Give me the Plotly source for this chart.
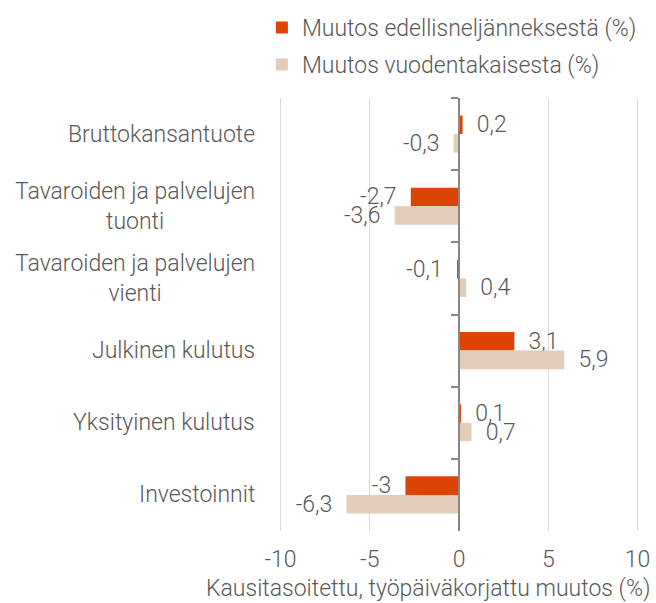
import plotly.graph_objects as go

categories = ["Bruttokansantuote", "Tavaroiden ja palvelujen<br>tuonti",
              "Tavaroiden ja palvelujen<br>vienti", "Julkinen kulutus",
              "Yksityinen kulutus", "Investoinnit"]
series_names = ["Muutos edellisneljänneksestä (%)", "Muutos vuodentakaisesta (%)"]
q_change = [0.2, -2.7, -0.1, 3.1, 0.1, -3]
y_change = [-0.3, -3.6, 0.4, 5.9, 0.7, -6.3]
tick_vals = [-10, -5, 0, 5, 10]
tick_text = ["-10", "-5", "0", "5", "10"]
axis_title = "Kausitasoitettu, työpäiväkorjattu muutos (%)"

colors = ["#DC4405", "#E2CCBA"]
txt_color = "#595959"
FONT = "Roboto"
FS = 23
NB = "\u00a0"


def fmt(v):
    s = (f"{v:g}").replace(".", ",")
    return (NB + NB + s) if v > 0 else (s + NB + NB)


def fnt(size=FS):
    return dict(family=FONT, size=size, color=txt_color, weight=300)


fig = go.Figure()
for name, vals, col, grp in zip(series_names, [q_change, y_change], colors, ["a", "b"]):
    fig.add_trace(go.Bar(
        y=categories, x=vals, orientation="h", name=name,
        marker=dict(color=col, line=dict(width=0)),
        text=[fmt(v) for v in vals], textposition="outside",
        textfont=fnt(),
        constraintext="none", cliponaxis=False, legendgroup=grp,
    ))

for c in categories:
    fig.add_annotation(x=0, xref="paper", y=c, yref="y", text=c, showarrow=False,
                       xanchor="right", yanchor="middle", align="center", xshift=-22,
                       font=fnt())

fig.add_annotation(x=(428 - 280) / 358, xref="paper", y=-(588 - 531) / 433, yref="paper",
                   text=axis_title, showarrow=False, xanchor="center", yanchor="middle",
                   font=fnt())

fig.update_layout(
    width=656, height=603,
    margin=dict(l=279, r=17, t=98, b=72, autoexpand=False),
    paper_bgcolor="white", plot_bgcolor="white",
    barmode="group", bargap=0.486, bargroupgap=0,
    font=fnt(),
    legend=dict(x=(263 - 280) / 358, xanchor="left", y=0.99, yref="container", yanchor="top",
                font=fnt(), tracegroupgap=4, traceorder="grouped",
                bgcolor="rgba(0,0,0,0)"),
    xaxis=dict(range=[-10.08, 10.08], tickvals=tick_vals, ticktext=tick_text,
               showgrid=True, gridcolor="#D9D9D9", gridwidth=1, zeroline=False,
               showline=False, ticks="", ticklabelstandoff=12,
               tickfont=fnt()),
    yaxis=dict(autorange="reversed", anchor="free", position=0.5, showline=True,
               linecolor="#878787", linewidth=2, ticks="outside", tickson="boundaries",
               ticklen=7, tickwidth=2, tickcolor="#878787", showticklabels=False,
               showgrid=False, zeroline=False),
    showlegend=True,
)

fig.write_html("out.html")
